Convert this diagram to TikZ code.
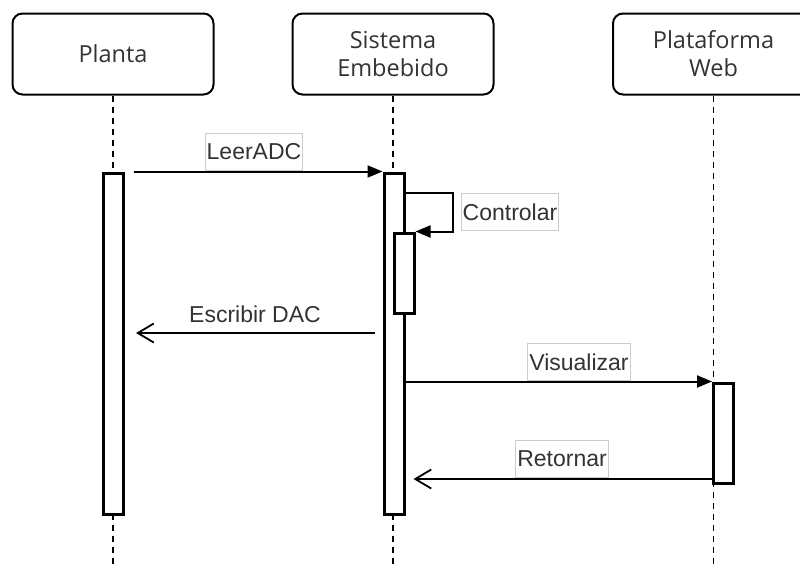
\documentclass[tikz,border=0pt]{standalone}
\usepackage{fontspec}
\setmainfont{Liberation Sans}
\newfontfamily\headfont{Open Sans}
\usetikzlibrary{arrows.meta}

\definecolor{txtgray}{HTML}{333333}
\definecolor{boxgray}{HTML}{CCCCCC}

\tikzset{
  actor/.style={draw=black, line width=2pt, rounded corners=10pt, minimum width=201pt, minimum height=81pt, align=center, font=\headfont\fontsize{23.5}{28}\selectfont, text=txtgray},
  lifeline/.style={line width=1.8pt, dash pattern=on 6pt off 5pt},
  activ/.style={draw=black, fill=white, line width=3pt, minimum width=20pt, inner sep=0pt},
  msg/.style={line width=2pt, -{Triangle[length=15pt,width=12pt]}},
  reply/.style={line width=2pt, -{Straight Barb[length=16pt,width=19pt,line width=1.8pt]}},
  lbl/.style={draw=boxgray, line width=1.2pt, fill=white, inner sep=1.5pt, minimum height=37pt, font=\fontsize{23}{26}\selectfont, text=txtgray},
  plain/.style={font=\fontsize{23}{26}\selectfont, text=txtgray}
}

\begin{document}
\begin{tikzpicture}[x=1pt, y=-1pt]
\useasboundingbox (0,0) rectangle (800,565);

% participants
\node[actor] (planta) at (113,54) {Planta};
\node[actor] (sistema) at (393,54) {Sistema\\Embebido};
\node[actor] (web) at (713.5,54) {Plataforma\\Web};

% lifelines
\coordinate (endP) at (113,565);
\coordinate (endS) at (393,565);
\coordinate (endW) at (713.5,565);
\draw[lifeline] (planta.south) -- (endP);
\draw[lifeline] (sistema.south) -- (endS);
\draw[lifeline] (web.south) -- (endW);

% activation bars
\node[activ, minimum height=341pt] (actP) at (113.5,343.5) {};
\node[activ, minimum height=341pt] (actS) at (394,343.5) {};
\node[activ, minimum height=80pt] (actI) at (404,273) {};
\node[activ, minimum height=100pt] (actW) at (723.5,433) {};

% messages
\draw[msg, shorten <=9pt] (actP.east |- actS.north west) -- (actS.north west);
\node[lbl] (leer) at (254,152) {LeerADC};

\coordinate (loop) at (453,193);
\draw[msg, line join=miter] (actS.east |- loop) -- (loop) |- (actI.north east);
\node[lbl] (ctrl) at (510,212) {Controlar};

\coordinate (dac) at (375,333);
\draw[reply, shorten >=11pt] (dac) -- (actP.east |- dac);
\node[plain] (escr) at (255,314) {Escribir DAC};

\draw[msg] (actS.east |- actW.north west) -- (actW.north west);
\node[lbl] (vis) at (579,362) {Visualizar};

\coordinate (ret) at (713.5,479);
\draw[reply, shorten >=8pt] (ret) -- (actS.east |- ret);
\node[lbl] (retn) at (562,459) {Retornar};
\end{tikzpicture}
\end{document}
